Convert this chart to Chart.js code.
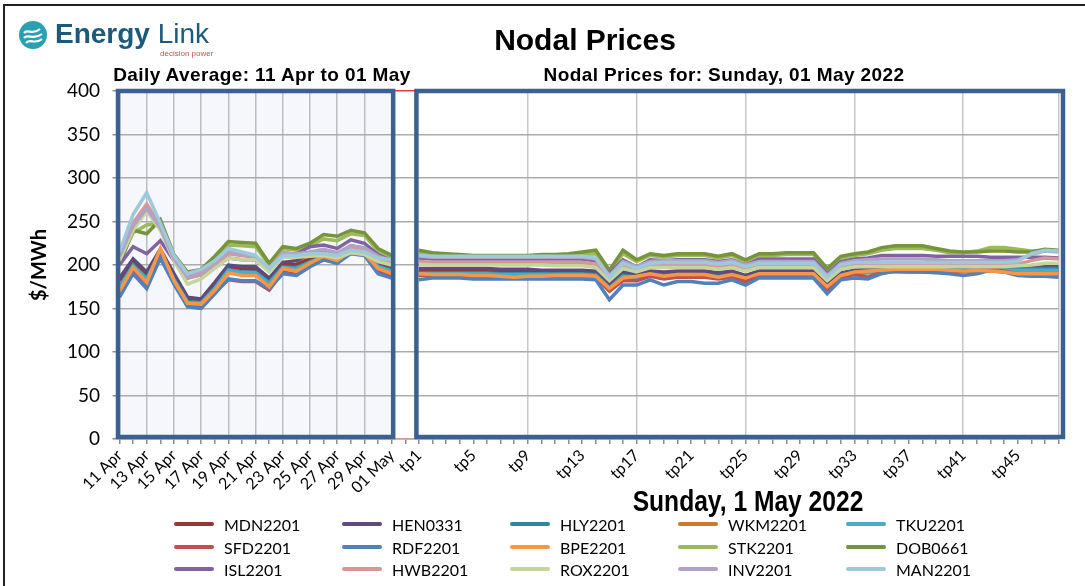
<!DOCTYPE html>
<html>
<head>
<meta charset="utf-8">
<script src="https://cdn.jsdelivr.net/npm/chart.js@4.4.1/dist/chart.umd.min.js"></script>
<style>
  html, body { margin: 0; padding: 0; background: #fff; }
  body { width: 1085px; height: 586px; position: relative; overflow: hidden; font-family: "Liberation Sans", Arial, sans-serif; }
  #chart { position: absolute; left: 0; top: 0; }
  #frame { position: absolute; left: 3px; top: 4px; width: 1200px; height: 700px; border-left: 2px solid #222; border-top: 2px solid #222; }
  .txt { position: absolute; white-space: nowrap; font-weight: bold; color: #000; transform: translate(-50%, -50%); }
  #logo { position: absolute; left: 18px; top: 20px; }
  #logo .name { position: absolute; left: 37px; top: -2px; font-size: 28px; color: #1c5a7d; white-space: nowrap; }
  #logo .tag { position: absolute; left: 142px; top: 29px; font-size: 8px; color: #c0504d; white-space: nowrap; }
  .leg { position: absolute; font-family: Lato, "Open Sans", sans-serif; font-size: 16px; color: #000; white-space: nowrap; }
  .leg i { position: absolute; left: 0; top: 50%; width: 40px; height: 4px; margin-top: -2px; border-radius: 2px; }
  .leg span { position: absolute; left: 50px; top: 50%; transform: translateY(-50%); }
</style>
</head>
<body>
<canvas id="chart" width="1085" height="586"></canvas>
<div id="frame"></div>
<div id="logo">
  <svg width="30" height="30" viewBox="0 0 30 30">
    <circle cx="15" cy="15" r="14" fill="#2aa0b2"/>
    <path d="M6 13 C10 8, 14 16, 22 9" stroke="#fff" stroke-width="2.2" fill="none"/>
    <path d="M6 18 C10 13, 15 21, 24 14" stroke="#fff" stroke-width="2.2" fill="none"/>
    <path d="M8 23 C12 18, 17 25, 24 19" stroke="#fff" stroke-width="2.2" fill="none"/>
  </svg>
  <div class="name"><b>Energy</b> Link</div>
  <div class="tag">decision power</div>
</div>
<div class="txt" style="left:585px; top:40px; font-size:30px;">Nodal Prices</div>
<div class="txt" style="left:262px; top:75px; font-size:19px; letter-spacing:0.4px;">Daily Average: 11 Apr to 01 May</div>
<div class="txt" style="left:724px; top:75px; font-size:19px; letter-spacing:0.4px;">Nodal Prices for: Sunday, 01 May 2022</div>
<div class="txt" style="left:748px; top:501px; font-size:30px; transform: translate(-50%, -50%) scaleX(0.82);">Sunday, 1 May 2022</div>
<div id="legend"></div>
<script>
// x categories: 21 daily averages, one empty gap, 48 trading periods
var days = ['11 Apr', '12 Apr', '13 Apr', '14 Apr', '15 Apr', '16 Apr', '17 Apr', '18 Apr', '19 Apr', '20 Apr',
  '21 Apr', '22 Apr', '23 Apr', '24 Apr', '25 Apr', '26 Apr', '27 Apr', '28 Apr', '29 Apr', '30 Apr', '01 May'];
var periods = [];
for (var p = 1; p <= 48; p++) periods.push('tp' + p);
var labels = days.concat([''], periods);

var names = ['MDN2201', 'HEN0331', 'HLY2201', 'WKM2201', 'TKU2201',
  'SFD2201', 'RDF2201', 'BPE2201', 'STK2201', 'DOB0661',
  'ISL2201', 'HWB2201', 'ROX2201', 'INV2201', 'MAN2201'];
var colors = ['#953735', '#604a7b', '#31859c', '#d0782f', '#4bacc6',
  '#c0504d', '#4f81bd', '#f79646', '#9bbb59', '#77933c',
  '#8064a2', '#d99694', '#c3d69b', '#b3a2c7', '#9dc9db'];

// daily averages ($/MWh), 11 Apr .. 01 May
var MDN_day = [182, 206, 188, 217, 186, 162, 160, 178, 198, 196, 195, 182, 200, 201, 207, 213, 208, 219, 217, 202, 196];
var HEN_day = [185, 207, 192, 218, 190, 163, 161, 180, 200, 198, 198, 185, 203, 205, 212, 216, 212, 222, 219, 205, 199];
var HLY_day = [175, 200, 185, 215, 184, 158, 157, 174, 195, 192, 192, 180, 198, 197, 204, 210, 205, 216, 214, 199, 194];
var WKM_day = [172, 198, 182, 216, 182, 157, 155, 172, 192, 189, 189, 176, 196, 194, 203, 209, 205, 216, 213, 196, 191];
var TKU_day = [174, 199, 184, 214, 183, 157, 156, 173, 194, 191, 191, 179, 197, 196, 203, 209, 204, 215, 213, 198, 193];
var SFD_day = [165, 193, 175, 212, 180, 153, 152, 168, 183, 181, 181, 171, 192, 189, 199, 206, 203, 214, 212, 193, 187];
var RDF_day = [163, 190, 173, 208, 178, 152, 150, 167, 184, 182, 182, 173, 190, 188, 198, 206, 202, 213, 211, 190, 185];
var BPE_day = [170, 197, 180, 219, 182, 156, 155, 171, 191, 188, 188, 175, 196, 193, 202, 210, 205, 216, 213, 196, 190];
var STK_day = [205, 237, 246, 248, 210, 189, 193, 208, 223, 222, 221, 200, 219, 217, 222, 230, 228, 236, 234, 216, 209];
var DOB_day = [200, 240, 236, 252, 212, 192, 195, 210, 227, 226, 225, 202, 221, 219, 225, 235, 233, 240, 237, 219, 211];
var ISL_day = [200, 221, 213, 228, 205, 185, 189, 198, 208, 206, 206, 194, 212, 213, 221, 223, 219, 229, 225, 212, 205];
var HWB_day = [212, 248, 270, 245, 208, 185, 189, 200, 213, 211, 209, 194, 215, 212, 212, 214, 210, 219, 217, 206, 203];
var ROX_day = [205, 240, 262, 240, 205, 178, 184, 196, 208, 206, 206, 192, 209, 209, 210, 211, 208, 214, 212, 204, 200];
var INV_day = [210, 245, 265, 243, 207, 186, 191, 202, 216, 212, 210, 197, 213, 213, 215, 218, 214, 222, 220, 210, 205];
var MAN_day = [215, 258, 283, 248, 211, 190, 195, 205, 219, 215, 211, 196, 211, 211, 213, 213, 211, 217, 215, 208, 206];

// trading period prices ($/MWh), tp1 .. tp48 on 01 May
var MDN_tp = [194, 194, 194, 194, 194, 193, 193, 193, 193, 193, 193, 193, 193, 192, 176, 190, 187, 191, 190, 191, 191, 191, 189, 191, 186, 191, 191, 191, 191, 191, 176, 189, 192, 192, 193, 193, 193, 193, 193, 193, 194, 195, 196, 194, 193, 193, 193, 193];
var HEN_tp = [196, 196, 196, 196, 196, 196, 195, 195, 195, 194, 194, 194, 194, 193, 178, 192, 189, 193, 192, 193, 193, 193, 191, 193, 188, 193, 193, 193, 193, 193, 178, 191, 194, 195, 196, 196, 196, 196, 196, 196, 196, 196, 196, 196, 196, 197, 198, 198];
var HLY_tp = [191, 191, 191, 191, 191, 191, 190, 190, 190, 190, 190, 190, 190, 189, 174, 188, 186, 189, 188, 189, 189, 189, 187, 189, 184, 189, 189, 189, 189, 189, 174, 187, 191, 192, 193, 194, 194, 194, 194, 194, 195, 196, 196, 196, 196, 196, 196, 196];
var WKM_tp = [189, 189, 189, 189, 188, 188, 187, 187, 187, 187, 188, 188, 188, 187, 173, 185, 186, 188, 186, 187, 187, 187, 185, 187, 184, 188, 188, 188, 188, 188, 174, 187, 190, 191, 192, 192, 192, 192, 192, 192, 192, 193, 193, 192, 191, 191, 190, 190];
var TKU_tp = [190, 190, 190, 190, 190, 190, 189, 189, 189, 189, 189, 189, 189, 188, 173, 187, 186, 188, 187, 188, 188, 188, 186, 188, 183, 188, 188, 188, 188, 188, 173, 186, 190, 191, 192, 193, 193, 193, 193, 193, 193, 194, 194, 194, 194, 194, 194, 194];
var SFD_tp = [188, 188, 188, 188, 187, 187, 186, 186, 186, 186, 187, 187, 187, 186, 170, 182, 182, 187, 184, 186, 186, 186, 184, 186, 181, 187, 187, 187, 187, 187, 171, 186, 189, 186, 192, 193, 193, 193, 193, 192, 193, 195, 196, 193, 190, 189, 189, 189];
var RDF_tp = [183, 185, 185, 185, 184, 184, 184, 184, 184, 184, 184, 184, 184, 183, 160, 177, 177, 183, 177, 181, 181, 179, 179, 183, 177, 185, 185, 185, 185, 185, 167, 183, 185, 184, 190, 193, 192, 192, 191, 190, 188, 190, 194, 192, 188, 187, 187, 186];
var BPE_tp = [190, 189, 189, 189, 188, 188, 187, 186, 187, 187, 188, 188, 188, 187, 173, 185, 187, 190, 187, 189, 189, 189, 186, 189, 185, 190, 190, 190, 190, 190, 175, 188, 192, 193, 194, 195, 195, 195, 195, 194, 193, 194, 193, 192, 190, 190, 190, 190];
var STK_tp = [214, 212, 211, 210, 210, 210, 210, 210, 210, 211, 211, 211, 212, 213, 192, 213, 204, 211, 209, 211, 211, 211, 208, 211, 204, 211, 211, 212, 212, 212, 194, 208, 211, 213, 217, 219, 219, 219, 217, 214, 214, 216, 220, 220, 218, 216, 217, 216];
var DOB_tp = [217, 214, 213, 212, 211, 211, 211, 211, 211, 212, 212, 213, 215, 217, 194, 217, 206, 213, 211, 213, 213, 213, 210, 213, 206, 213, 213, 214, 214, 214, 196, 210, 213, 215, 220, 222, 222, 222, 219, 216, 215, 215, 216, 216, 215, 215, 218, 217];
var ISL_tp = [208, 207, 207, 207, 207, 207, 207, 207, 207, 207, 207, 207, 207, 205, 190, 206, 198, 206, 205, 206, 206, 206, 204, 206, 200, 207, 207, 207, 207, 207, 190, 204, 207, 208, 211, 211, 211, 211, 210, 210, 210, 210, 209, 209, 209, 209, 209, 208];
var HWB_tp = [204, 203, 203, 203, 203, 203, 203, 203, 203, 203, 203, 203, 203, 201, 184, 199, 194, 199, 199, 200, 200, 200, 198, 200, 195, 199, 199, 199, 199, 199, 184, 197, 200, 200, 200, 200, 200, 200, 200, 200, 200, 200, 200, 200, 201, 205, 208, 207];
var ROX_tp = [201, 200, 200, 200, 200, 200, 200, 200, 200, 200, 199, 199, 199, 197, 182, 196, 192, 197, 197, 197, 197, 197, 195, 197, 193, 197, 197, 197, 197, 197, 182, 195, 198, 198, 198, 198, 198, 198, 198, 198, 198, 198, 198, 198, 199, 200, 202, 202];
var INV_tp = [210, 209, 209, 209, 209, 209, 209, 209, 209, 209, 209, 209, 209, 207, 188, 204, 198, 204, 205, 205, 205, 205, 203, 205, 200, 204, 204, 204, 204, 204, 188, 202, 205, 206, 207, 207, 207, 207, 206, 205, 205, 205, 205, 205, 206, 212, 216, 215];
var MAN_tp = [211, 210, 210, 210, 210, 210, 210, 210, 210, 210, 210, 210, 210, 208, 186, 202, 196, 202, 203, 203, 203, 203, 201, 203, 198, 202, 202, 202, 202, 202, 186, 200, 203, 203, 203, 203, 203, 203, 203, 203, 203, 203, 203, 203, 204, 213, 217, 216];

var dayData = [MDN_day, HEN_day, HLY_day, WKM_day, TKU_day, SFD_day, RDF_day, BPE_day, STK_day, DOB_day, ISL_day, HWB_day, ROX_day, INV_day, MAN_day];
var tpData = [MDN_tp, HEN_tp, HLY_tp, WKM_tp, TKU_tp, SFD_tp, RDF_tp, BPE_tp, STK_tp, DOB_tp, ISL_tp, HWB_tp, ROX_tp, INV_tp, MAN_tp];

var datasets = names.map(function(n, i) {
  return {
    label: n,
    data: dayData[i].concat([null], tpData[i]),
    borderColor: colors[i],
    backgroundColor: colors[i],
    borderWidth: 3.5,
    pointRadius: 0,
    tension: 0,
    spanGaps: false,
    order: names.length - i   // later series drawn on top, like the original
  };
});

var GAP = days.length;          // index of empty category
var FIRST_TP = GAP + 1;

// panels: light left background, thick blue frames
var panels = {
  id: 'panels',
  beforeDraw: function(chart) {
    var ctx = chart.ctx, x = chart.scales.x, a = chart.chartArea;
    ctx.save();
    ctx.fillStyle = '#f5f7fc';
    ctx.fillRect(x.getPixelForValue(0), a.top, x.getPixelForValue(GAP - 1) - x.getPixelForValue(0), a.bottom - a.top);
    ctx.restore();
  },
  afterDatasetsDraw: function(chart) {
    var ctx = chart.ctx, x = chart.scales.x, a = chart.chartArea;
    ctx.save();
    ctx.strokeStyle = '#3c6090';
    ctx.lineWidth = 4.5;
    var l1 = x.getPixelForValue(0) - 1.5, r1 = x.getPixelForValue(GAP - 1) + 1.5;
    var l2 = x.getPixelForValue(FIRST_TP) - 2.5, r2 = x.getPixelForValue(labels.length - 1) + 4.5;
    ctx.strokeRect(l1, a.top, r1 - l1, a.bottom - 2 - a.top);
    ctx.strokeRect(l2, a.top, r2 - l2, a.bottom - 2 - a.top);
    ctx.restore();
  }
};

function showTick(i) {
  if (i < GAP) return i % 2 === 0;
  if (i >= FIRST_TP) return (i - FIRST_TP) % 4 === 0;
  return false;
}
function showGrid(i) {
  if (i < GAP) return i % 2 === 0;
  if (i > FIRST_TP) return (i - FIRST_TP) % 8 === 0 || i === labels.length - 1;
  return false;
}

var chart = new Chart(document.getElementById('chart'), {
  type: 'line',
  data: { labels: labels, datasets: datasets },
  plugins: [panels],
  options: {
    responsive: false,
    animation: false,
    layout: { padding: { left: 0, right: 26.5, top: 91, bottom: 0 } },
    plugins: {
      legend: { display: false },
      title: { display: false },
      tooltip: { enabled: false }
    },
    scales: {
      x: {
        offset: false,
        border: { color: '#c99a9a', width: 1.5 },
        grid: {
          color: function(c) { return showGrid(c.index) ? (c.index < GAP ? '#bdbdbd' : '#c8c8c8') : 'rgba(0,0,0,0)'; },
          lineWidth: 1.5,
          tickColor: '#8c8c8c',
          tickLength: 5
        },
        ticks: {
          autoSkip: false,
          minRotation: 45,
          maxRotation: 45,
          padding: 2,
          color: '#000',
          font: { family: 'Lato, "Open Sans", sans-serif', size: 16 },
          callback: function(v, i) { return showTick(i) ? labels[i] : ''; }
        },
        afterFit: function(s) { s.height = 147; s.paddingLeft = 0; s.paddingRight = 0; }
      },
      y: {
        min: 0,
        max: 400,
        border: { color: '#8c8c8c' },
        grid: {
          color: function(c) { return c.tick.value === 400 ? '#e03c3c' : '#ababab'; },
          lineWidth: 1.5,
          tickColor: '#8c8c8c',
          tickLength: 7
        },
        ticks: {
          stepSize: 50,
          padding: 12.5,
          color: '#000',
          font: { family: 'Lato, "Open Sans", sans-serif', size: 19 }
        },
        title: {
          display: true,
          text: '$/MWh',
          color: '#000',
          padding: { top: 28, bottom: 0 },
          font: { family: 'Lato, "Open Sans", sans-serif', size: 20, weight: 'bold' }
        },
        afterFit: function(s) { s.width = 119.5; s.paddingTop = 0; s.paddingBottom = 0; }
      }
    }
  }
});

// legend: 3 rows of 5, same order as the series
var leg = document.getElementById('legend');
names.forEach(function(n, i) {
  var row = Math.floor(i / 5), col = i % 5;
  var d = document.createElement('div');
  d.className = 'leg';
  d.style.left = (174 + col * 168) + 'px';
  d.style.top = (513 + row * 22.5) + 'px';
  d.style.width = '160px';
  d.style.height = '22px';
  d.innerHTML = '<i style="background:' + colors[i] + '"></i><span>' + n + '</span>';
  leg.appendChild(d);
});
</script>
</body>
</html>
